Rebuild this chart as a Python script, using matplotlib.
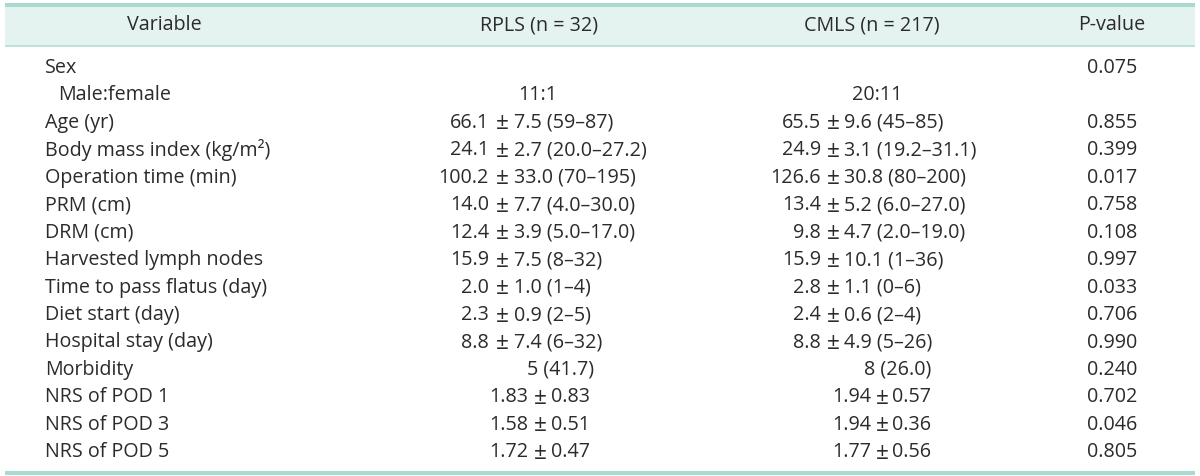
import matplotlib
matplotlib.use("Agg")
import matplotlib.pyplot as plt

# ---------------- data ----------------
headers = ["Variable", "RPLS (n = 32)", "CMLS (n = 217)", "P-value"]
variables = ["Sex", "Male:female", "Age (yr)", "Body mass index (kg/m²)",
             "Operation time (min)", "PRM (cm)", "DRM (cm)",
             "Harvested lymph nodes", "Time to pass flatus (day)",
             "Diet start (day)", "Hospital stay (day)", "Morbidity",
             "NRS of POD 1", "NRS of POD 3", "NRS of POD 5"]
sub_rows = ["Male:female"]
rpls = ["", "11:1", "66.1 ± 7.5 (59–87)", "24.1 ± 2.7 (20.0–27.2)",
        "100.2 ± 33.0 (70–195)", "14.0 ± 7.7 (4.0–30.0)",
        "12.4 ± 3.9 (5.0–17.0)", "15.9 ± 7.5 (8–32)", "2.0 ± 1.0 (1–4)",
        "2.3 ± 0.9 (2–5)", "8.8 ± 7.4 (6–32)", "5 (41.7)",
        "1.83 ± 0.83", "1.58 ± 0.51", "1.72 ± 0.47"]
cmls = ["", "20:11", "65.5 ± 9.6 (45–85)", "24.9 ± 3.1 (19.2–31.1)",
        "126.6 ± 30.8 (80–200)", "13.4 ± 5.2 (6.0–27.0)",
        "9.8 ± 4.7 (2.0–19.0)", "15.9 ± 10.1 (1–36)", "2.8 ± 1.1 (0–6)",
        "2.4 ± 0.6 (2–4)", "8.8 ± 4.9 (5–26)", "8 (26.0)",
        "1.94 ± 0.57", "1.94 ± 0.36", "1.77 ± 0.56"]
pvalues = ["0.075", "", "0.855", "0.399", "0.017", "0.758", "0.108",
           "0.997", "0.033", "0.706", "0.990", "0.240", "0.702", "0.046",
           "0.805"]

# ---------------- style ----------------
W, H = 1200, 476
FONT = "Open Sans"
FS = 14.2
TXT = "#2b2b2b"
LINE = "#a9dad1"
BAND = "#e5f3f0"

fig = plt.figure(figsize=(W / 100, H / 100), dpi=100)
ax = fig.add_axes([0, 0, 1, 1])
ax.set_xlim(0, W)
ax.set_ylim(H, 0)
ax.axis("off")

# header band and rules
ax.fill_between([5, 1195], 6, 45, color=BAND, lw=0)
ax.plot([5, 1195], [4.8, 4.8], color=LINE, lw=2.9, solid_capstyle="butt")
ax.plot([5, 1195], [45.5, 45.5], color=LINE, lw=1.1, solid_capstyle="butt")
ax.plot([5, 1195], [472.5, 472.5], color=LINE, lw=2.9, solid_capstyle="butt")

kw = dict(fontsize=FS, family=FONT, color=TXT, va="center")
kw_pm = dict(kw, fontsize=FS * 1.15)

# header texts
hx = [164, 539, 872, 1112]
for x, h in zip(hx, headers):
    ax.text(x, 25, h, ha="center", **kw)

# column geometry: (left-part right edge, ± centre, right-part start)
cols = [
    dict(rng=(489, 502.5, 514), short=(528, 540, 551), center=538, right=594),
    dict(rng=(821, 833.5, 844), short=(871, 882.5, 892), center=877, right=931),
]


def draw_cell(col, y, s):
    if not s:
        return
    if " ± " in s:
        left, right = s.split(" ± ", 1)
        le, pm, rs = col["rng"] if "(" in right else col["short"]
        ax.text(le, y, left, ha="right", **kw)
        ax.text(pm, y + 0.5, "±", ha="center", **kw_pm)
        ax.text(rs, y, right, ha="left", **kw)
    elif "(" in s:
        ax.text(col["right"], y, s, ha="right", **kw)
    else:
        ax.text(col["center"], y, s, ha="center", **kw)


y0, dy = 68.0, 27.45
for i, name in enumerate(variables):
    y = y0 + i * dy
    x = 58 if name in sub_rows else 45
    ax.text(x, y, name, ha="left", **kw)
    draw_cell(cols[0], y, rpls[i])
    draw_cell(cols[1], y, cmls[i])
    if pvalues[i]:
        ax.text(1112, y, pvalues[i], ha="center", **kw)

fig.savefig("out.png", dpi=100)
